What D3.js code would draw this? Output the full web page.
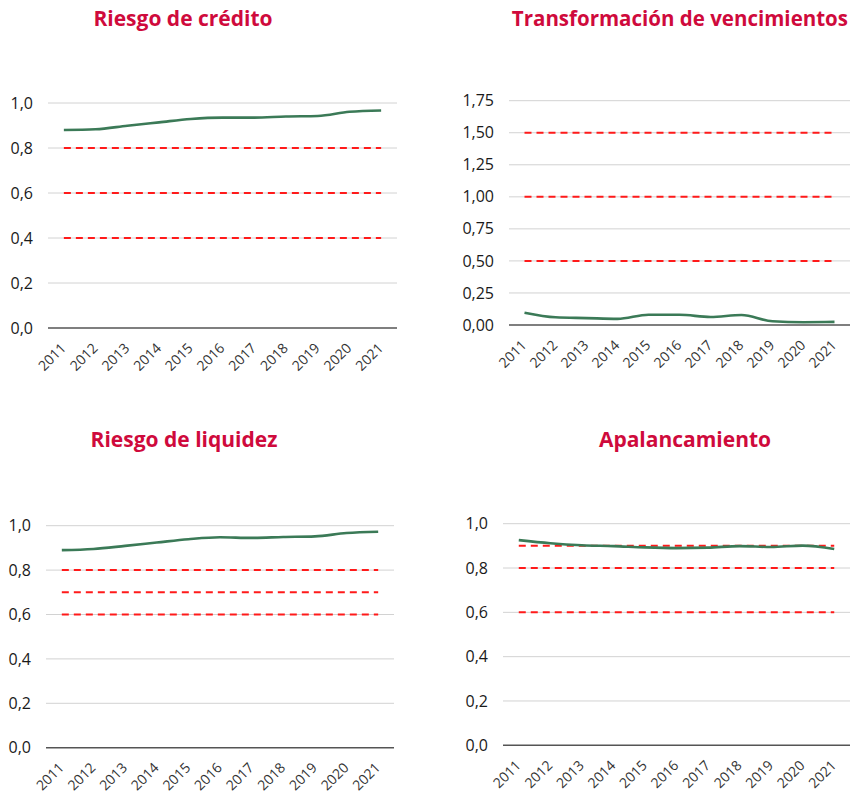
<!DOCTYPE html>
<html>
<head>
<meta charset="utf-8">
<script src="https://cdn.jsdelivr.net/npm/d3@7"></script>
<style>
  body { margin: 0; background: #fff; }
  svg { display: block; }
  .title { font-family: "Open Sans", sans-serif; font-weight: 700; fill: #cf0a3c; }
  .ytick { font-family: "Open Sans", sans-serif; font-size: 16px; fill: #1a1a1a; }
  .xtick { font-family: "Open Sans", sans-serif; font-size: 14px; fill: #333; }
</style>
</head>
<body>
<svg id="chart" width="850" height="798"></svg>
<script>
// years on the x axis
var years = ["2011","2012","2013","2014","2015","2016","2017","2018","2019","2020","2021"];

// series values
var credito      = [0.880, 0.883, 0.899, 0.914, 0.929, 0.935, 0.935, 0.940, 0.942, 0.961, 0.967];
var vencimientos = [0.096, 0.060, 0.054, 0.048, 0.080, 0.080, 0.063, 0.078, 0.029, 0.022, 0.024];
var liquidez     = [0.890, 0.895, 0.909, 0.924, 0.939, 0.948, 0.945, 0.949, 0.952, 0.967, 0.973];
var apalanc      = [0.926, 0.912, 0.903, 0.899, 0.893, 0.890, 0.892, 0.899, 0.895, 0.901, 0.886];

// red dashed thresholds
var umbralCredito      = [0.8, 0.6, 0.4];
var umbralVencimientos = [1.5, 1.0, 0.5];
var umbralLiquidez     = [0.8, 0.7, 0.6];
var umbralApalanc      = [0.9, 0.8, 0.6];

// tick values
var ticksTenth   = [0, 0.2, 0.4, 0.6, 0.8, 1.0];
var ticksQuarter = [0, 0.25, 0.5, 0.75, 1.0, 1.25, 1.5, 1.75];

var svg = d3.select("#chart");

function drawPanel(p) {
	var g = svg.append("g");

	var x = d3.scaleBand().domain(years).range([p.x0, p.x1]);
	var y = d3.scaleLinear().domain([0, p.max]).range([p.y0, p.y1]);
	var cx = function(d) { return x(d) + x.bandwidth() / 2; };

	g.append("text")
		.attr("class", "title")
		.attr("x", p.tx).attr("y", p.ty)
		.attr("text-anchor", p.tanchor || "middle")
		.style("font-size", p.tsize + "px")
		.text(p.title);

	// gridlines
	g.selectAll("line.grid")
		.data(p.ticks.filter(function(t) { return t > 0; }))
		.enter().append("line")
		.attr("x1", p.x0).attr("x2", p.x1)
		.attr("y1", function(d) { return y(d); })
		.attr("y2", function(d) { return y(d); })
		.attr("stroke", "#d2d2d2").attr("stroke-width", 1);

	// y labels
	g.selectAll("text.ytick")
		.data(p.ticks)
		.enter().append("text")
		.attr("class", "ytick")
		.attr("x", p.x0 - 15)
		.attr("y", function(d) { return y(d); })
		.attr("dy", "0.35em")
		.attr("text-anchor", "end")
		.text(function(d) { return d3.format(p.fmt)(d).replace(".", ","); });

	// thresholds
	g.selectAll("line.thr")
		.data(p.thr)
		.enter().append("line")
		.attr("x1", cx(years[0])).attr("x2", cx(years[years.length - 1]))
		.attr("y1", function(d) { return y(d); })
		.attr("y2", function(d) { return y(d); })
		.attr("stroke", "#ff1a1a").attr("stroke-width", 2)
		.attr("stroke-dasharray", "7,5");

	// baseline
	g.append("line")
		.attr("x1", p.x0).attr("x2", p.x1)
		.attr("y1", y(0)).attr("y2", y(0))
		.attr("stroke", "#555").attr("stroke-width", 1.5);

	// series
	var line = d3.line()
		.x(function(d, i) { return cx(years[i]); })
		.y(function(d) { return y(d); })
		.curve(d3.curveMonotoneX);
	g.append("path")
		.datum(p.values)
		.attr("d", line)
		.attr("fill", "none")
		.attr("stroke", "#3b7a57")
		.attr("stroke-width", 2.6);

	// year labels, rotated
	g.selectAll("text.xtick")
		.data(years)
		.enter().append("text")
		.attr("class", "xtick")
		.attr("text-anchor", "end")
		.attr("transform", function(d) {
			return "translate(" + (cx(d) + 3) + "," + (y(0) + 21) + ") rotate(-45)";
		})
		.text(function(d) { return d; });
}

drawPanel({ title: "Riesgo de crédito", tx: 183, ty: 26, tsize: 21,
	x0: 48, x1: 397, y0: 328, y1: 103, max: 1.0,
	ticks: ticksTenth, fmt: ".1f", thr: umbralCredito, values: credito });

// this title sits against the right edge, keep it inside
drawPanel({ title: "Transformación de vencimientos", tx: 848, ty: 26, tsize: 20.5, tanchor: "end",
	x0: 509, x1: 850, y0: 325, y1: 100.7, max: 1.75,
	ticks: ticksQuarter, fmt: ".2f", thr: umbralVencimientos, values: vencimientos });

drawPanel({ title: "Riesgo de liquidez", tx: 184, ty: 447, tsize: 21,
	x0: 46, x1: 394, y0: 747.7, y1: 525.7, max: 1.0,
	ticks: ticksTenth, fmt: ".1f", thr: umbralLiquidez, values: liquidez });

drawPanel({ title: "Apalancamiento", tx: 685, ty: 447, tsize: 21,
	x0: 503, x1: 850, y0: 745.3, y1: 523.7, max: 1.0,
	ticks: ticksTenth, fmt: ".1f", thr: umbralApalanc, values: apalanc });
</script>
</body>
</html>
